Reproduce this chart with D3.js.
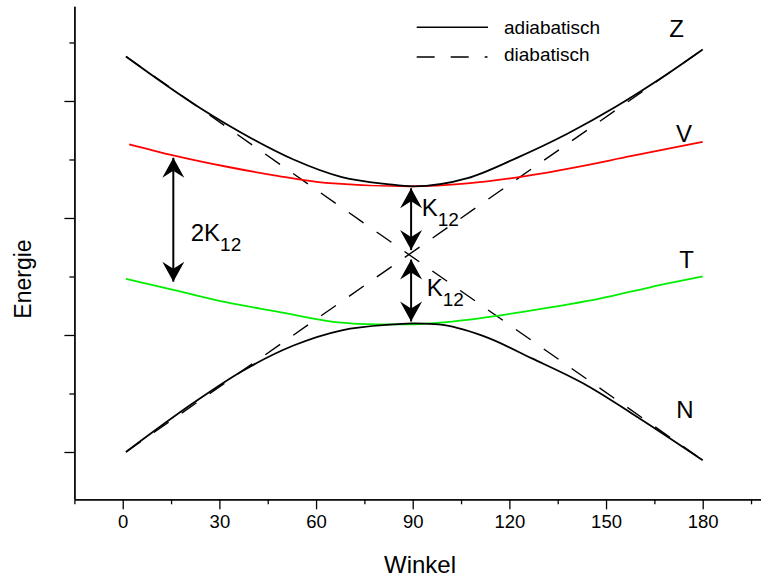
<!DOCTYPE html>
<html>
<head>
<meta charset="utf-8">
<script src="https://cdn.jsdelivr.net/npm/d3@7"></script>
<style>
  body { margin: 0; background: #fff; }
  svg { display: block; font-family: Arial, "Liberation Sans", sans-serif; }
</style>
</head>
<body>
<div id="chart"></div>
<script>
// Values (angle in degrees, energy in arbitrary units)
const zAngle = [1, 24, 40, 53, 68, 82, 90, 107, 122, 138, 153, 169, 180];
const zEnergy = [3.38, 2.94, 2.68, 2.50, 2.35, 2.29, 2.27, 2.34, 2.51, 2.72, 2.95, 3.23, 3.44];

const vAngle = [2, 15, 32, 48, 63, 89, 107, 122, 138, 158, 180];
const vEnergy = [2.63, 2.54, 2.44, 2.36, 2.30, 2.27, 2.295, 2.345, 2.42, 2.53, 2.65];

const tAngle = [1, 15, 32, 48, 66, 79, 89, 107, 127, 148, 164, 180];
const tEnergy = [1.48, 1.39, 1.28, 1.20, 1.11, 1.09, 1.09, 1.13, 1.21, 1.31, 1.41, 1.50];

const nAngle = [1, 22, 37, 53, 68, 84, 90, 98, 112, 127, 143, 158, 180];
const nEnergy = [0.0, 0.42, 0.69, 0.91, 1.04, 1.09, 1.10, 1.09, 0.99, 0.80, 0.585, 0.33, -0.07];

const diabAngle = [1, 180];
const diab1Energy = [3.38, -0.07];
const diab2Energy = [0.0, 3.44];

const xTicks = [0, 30, 60, 90, 120, 150, 180];
const xMinorTicks = [-15, 15, 45, 75, 105, 135, 165, 195];
const yTicks = [0, 1, 2, 3];
const yMinorTicks = [0.5, 1.5, 2.5, 3.5];

// arrows: angle, energy from, energy to
const arrowAngle = [15.7, 89.5, 89.5];
const arrowFrom = [2.54, 2.28, 1.67];
const arrowTo = [1.43, 1.70, 1.09];

const width = 761, height = 581;

const x = d3.scaleLinear().domain([-15, 198]).range([74.4, 760.7]);
const y = d3.scaleLinear().domain([-0.4, 3.81]).range([498.8, 6.2]);

const svg = d3.select("#chart").append("svg")
    .attr("width", width)
    .attr("height", height);

// arrow head marker
svg.append("defs").append("marker")
    .attr("id", "head")
    .attr("viewBox", "-22 -12 24 24")
    .attr("refX", 0).attr("refY", 0)
    .attr("markerWidth", 24).attr("markerHeight", 24)
    .attr("markerUnits", "userSpaceOnUse")
    .attr("orient", "auto-start-reverse")
    .append("path")
    .attr("d", "M0,0 L-20,-11 L-13,0 L-20,11 Z")
    .attr("fill", "#000");

// Axes
function styleAxis(g) {
    g.selectAll("path.domain").attr("stroke", "#000").attr("stroke-width", 1.3);
    g.selectAll(".tick line").attr("stroke", "#000").attr("stroke-width", 1.3);
}

const xAxis = svg.append("g")
    .attr("transform", `translate(0,${y(-0.4) + 0.5})`)
    .call(d3.axisBottom(x).tickValues(xTicks).tickSize(10).tickSizeOuter(0).tickPadding(6))
    .call(styleAxis);
xAxis.selectAll("text").attr("font-size", 18.5).attr("fill", "#000").attr("font-family", "Arial, 'Liberation Sans', sans-serif");

svg.append("g")
    .attr("transform", `translate(0,${y(-0.4) + 0.5})`)
    .call(d3.axisBottom(x).tickValues(xMinorTicks).tickSize(5).tickSizeOuter(0).tickFormat(""))
    .call(styleAxis);

svg.append("g")
    .attr("transform", `translate(${x(-15)},0)`)
    .call(d3.axisLeft(y).tickValues(yTicks).tickSize(10).tickSizeOuter(0).tickFormat(""))
    .call(styleAxis);

svg.append("g")
    .attr("transform", `translate(${x(-15)},0)`)
    .call(d3.axisLeft(y).tickValues(yMinorTicks).tickSize(5).tickSizeOuter(0).tickFormat(""))
    .call(styleAxis);

// Axis titles
svg.append("text")
    .attr("x", 420).attr("y", 573)
    .attr("text-anchor", "middle")
    .attr("font-size", 24)
    .text("Winkel");

svg.append("text")
    .attr("transform", "translate(31,279) rotate(-90)")
    .attr("text-anchor", "middle")
    .attr("font-size", 23)
    .text("Energie");

// Curves
const line = d3.line()
    .x(d => x(d[0]))
    .y(d => y(d[1]))
    .curve(d3.curveMonotoneX);

const zip = (a, b) => a.map((v, i) => [v, b[i]]);

svg.append("path").datum(zip(diabAngle, diab1Energy))
    .attr("d", d3.line().x(d => x(d[0])).y(d => y(d[1])))
    .attr("fill", "none").attr("stroke", "#000").attr("stroke-width", 1.4)
    .attr("stroke-dasharray", "18,16");

svg.append("path").datum(zip(diabAngle, diab2Energy))
    .attr("d", d3.line().x(d => x(d[0])).y(d => y(d[1])))
    .attr("fill", "none").attr("stroke", "#000").attr("stroke-width", 1.4)
    .attr("stroke-dasharray", "18,16");

const curves = [
    { a: vAngle, e: vEnergy, color: "#ff0000" },
    { a: tAngle, e: tEnergy, color: "#00ee00" },
    { a: zAngle, e: zEnergy, color: "#000000" },
    { a: nAngle, e: nEnergy, color: "#000000" }
];

curves.forEach(c => {
    svg.append("path").datum(zip(c.a, c.e))
        .attr("d", line)
        .attr("fill", "none")
        .attr("stroke", c.color)
        .attr("stroke-width", 1.8);
});

// Arrows
arrowAngle.forEach((a, i) => {
    const y1 = y(arrowFrom[i]), y2 = y(arrowTo[i]);
    svg.append("line")
        .attr("x1", x(a)).attr("x2", x(a))
        .attr("y1", y1 + 3).attr("y2", y2 - 3)
        .attr("stroke", "#000").attr("stroke-width", 2)
        .attr("marker-start", "url(#head)")
        .attr("marker-end", "url(#head)");
});

// Curve labels
const labels = [
    { t: "Z", a: 171.9, e: 3.547 },
    { t: "V", a: 174.2, e: 2.65 },
    { t: "T", a: 175, e: 1.57 },
    { t: "N", a: 174.5, e: 0.288 }
];
svg.selectAll(".clabel").data(labels).enter().append("text")
    .attr("x", d => x(d.a)).attr("y", d => y(d.e))
    .attr("text-anchor", "middle")
    .attr("font-size", 24)
    .text(d => d.t);

// K12 labels
const kLabels = [
    { main: "2K", a: 21.1, e: 1.80 },
    { main: "K", a: 92.8, e: 2.02 },
    { main: "K", a: 94.35, e: 1.336 }
];
kLabels.forEach(k => {
    const t = svg.append("text")
        .attr("x", x(k.a)).attr("y", y(k.e))
        .attr("font-size", 24);
    t.append("tspan").text(k.main);
    t.append("tspan").attr("dy", 10).attr("font-size", 19).text("12");
});

// Legend
svg.append("line")
    .attr("x1", 416.7).attr("x2", 488).attr("y1", 27.3).attr("y2", 27.3)
    .attr("stroke", "#000").attr("stroke-width", 1.6);
svg.append("line")
    .attr("x1", 416.7).attr("x2", 487.5).attr("y1", 57).attr("y2", 57)
    .attr("stroke", "#000").attr("stroke-width", 1.6)
    .attr("stroke-dasharray", "18,16");
svg.append("text").attr("x", 504).attr("y", 34).attr("font-size", 19).text("adiabatisch");
svg.append("text").attr("x", 504).attr("y", 61).attr("font-size", 19).text("diabatisch");
</script>
</body>
</html>
